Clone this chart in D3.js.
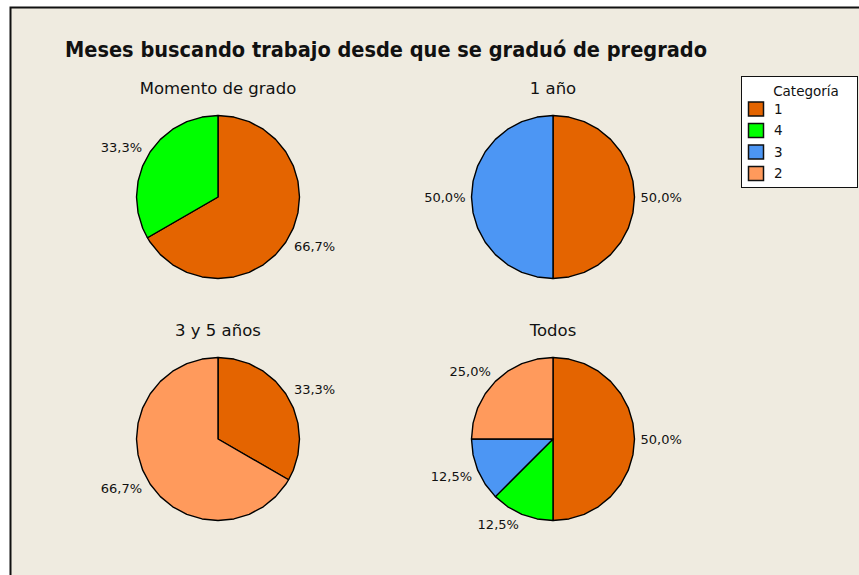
<!DOCTYPE html>
<html>
<head>
<meta charset="utf-8">
<script src="https://cdn.jsdelivr.net/npm/d3@7"></script>
<style>
  html, body { margin: 0; padding: 0; background: #ffffff; }
  svg { display: block; }
  text { font-family: "DejaVu Sans", sans-serif; fill: #111; }
</style>
</head>
<body>
<svg id="chart" width="859" height="575"></svg>
<script>
// Category order (legend order, also clockwise slice order from 12 o'clock)
const categories = ["1", "4", "3", "2"];
const categoryColors = ["#E46400", "#00FF00", "#4C96F4", "#FF9A5C"];

// Panels and their counts per category (same order as categories)
const panels = ["Momento de grado", "1 año", "3 y 5 años", "Todos"];
const countsMomento = [2, 1, 0, 0];
const countsUnAno   = [1, 0, 1, 0];
const countsTresCinco = [1, 0, 0, 2];
const countsTodos   = [4, 1, 1, 2];
const panelCounts = [countsMomento, countsUnAno, countsTresCinco, countsTodos];

const title = "Meses buscando trabajo desde que se graduó de pregrado";
const legendTitle = "Categoría";

const W = 859, H = 575;
const svg = d3.select("#chart");

// frame
svg.append("rect").attr("x", 10.5).attr("y", 7.5).attr("width", W + 20).attr("height", H + 20)
  .attr("fill", "#EFEBE0").attr("stroke", "#111").attr("stroke-width", 2);

svg.append("text").attr("x", 65).attr("y", 57)
  .attr("font-size", 21).attr("font-weight", "bold")
  .attr("textLength", 642).attr("lengthAdjust", "spacingAndGlyphs")
  .text(title);

// layout of the 2x2 grid of pies
const col = d3.scalePoint().domain([0, 1]).range([218, 553]);
const row = d3.scalePoint().domain([0, 1]).range([197, 439]);
const radius = 81.5;
const color = d3.scaleOrdinal().domain(categories).range(categoryColors);

const pie = d3.pie().sort(null).value(d => d.count);
const fmt = v => d3.format(".1f")(v).replace(".", ",") + "%";

// polygonal slice outline: points on the rim every fixed step, plus the slice edges
const STEP = 2 * Math.PI / 32;
function slicePath(a0, a1, r) {
  const pts = [[0, 0]];
  const ang = [a0];
  for (let k = Math.ceil(a0 / STEP + 1e-9); k * STEP < a1 - 1e-9; k++) ang.push(k * STEP);
  ang.push(a1);
  ang.forEach(a => pts.push([r * Math.sin(a), -r * Math.cos(a)]));
  return "M" + pts.map(p => p[0].toFixed(2) + "," + p[1].toFixed(2)).join("L") + "Z";
}

panels.forEach((name, i) => {
  const cx = col(i % 2), cy = row(Math.floor(i / 2));
  const data = categories.map((c, j) => ({ cat: c, count: panelCounts[i][j] }));
  const total = d3.sum(data, d => d.count);
  const arcs = pie(data).filter(a => a.data.count > 0);
  const g = svg.append("g").attr("transform", `translate(${cx},${cy})`);

  svg.append("text").attr("x", cx).attr("y", cy - 103)
    .attr("text-anchor", "middle").attr("font-size", 16.5).text(name);

  g.selectAll("path.slice").data(arcs).join("path")
    .attr("class", "slice")
    .attr("d", a => slicePath(a.startAngle, a.endAngle, radius))
    .attr("fill", a => color(a.data.cat))
    .attr("stroke", "#000").attr("stroke-width", 1.4).attr("stroke-linejoin", "round");

  // percentage labels just outside the rim, anchored away from the pie
  const h = 12;
  g.selectAll("text.pct").data(arcs).join("text")
    .attr("class", "pct")
    .each(function (a) {
      const m = (a.startAngle + a.endAngle) / 2;
      const ux = Math.sin(m), uy = -Math.cos(m);
      const R = radius + 5;
      const px = ux * R, py = uy * R;
      const yc = py + Math.sign(uy) * (h / 2) * Math.min(1, Math.abs(uy) * 2);
      d3.select(this)
        .attr("x", px + (ux >= 0 ? 1 : -1))
        .attr("y", yc)
        .attr("dy", "0.35em")
        .attr("text-anchor", ux >= 0.001 ? "start" : "end")
        .attr("font-size", 13)
        .text(fmt(a.data.count / total * 100));
    });
});

// legend
const lg = svg.append("g").attr("transform", "translate(741,76)");
lg.append("rect").attr("x", 0.5).attr("y", 0.5).attr("width", 116).attr("height", 111)
  .attr("fill", "#fff").attr("stroke", "#111").attr("stroke-width", 1);
lg.append("text").attr("x", 65).attr("y", 20).attr("text-anchor", "middle")
  .attr("font-size", 13.5).text(legendTitle);
const ly = d3.scaleBand().domain(categories).range([22, 108]);
const items = lg.selectAll("g.item").data(categories).join("g")
  .attr("class", "item")
  .attr("transform", c => `translate(7,${ly(c)})`);
items.append("rect").attr("x", 0.5).attr("y", 4).attr("width", 15).attr("height", 14)
  .attr("fill", c => color(c)).attr("stroke", "#111").attr("stroke-width", 1.5);
items.append("text").attr("x", 26).attr("y", 11).attr("dy", "0.35em")
  .attr("font-size", 13.5).text(c => c);
</script>
</body>
</html>
